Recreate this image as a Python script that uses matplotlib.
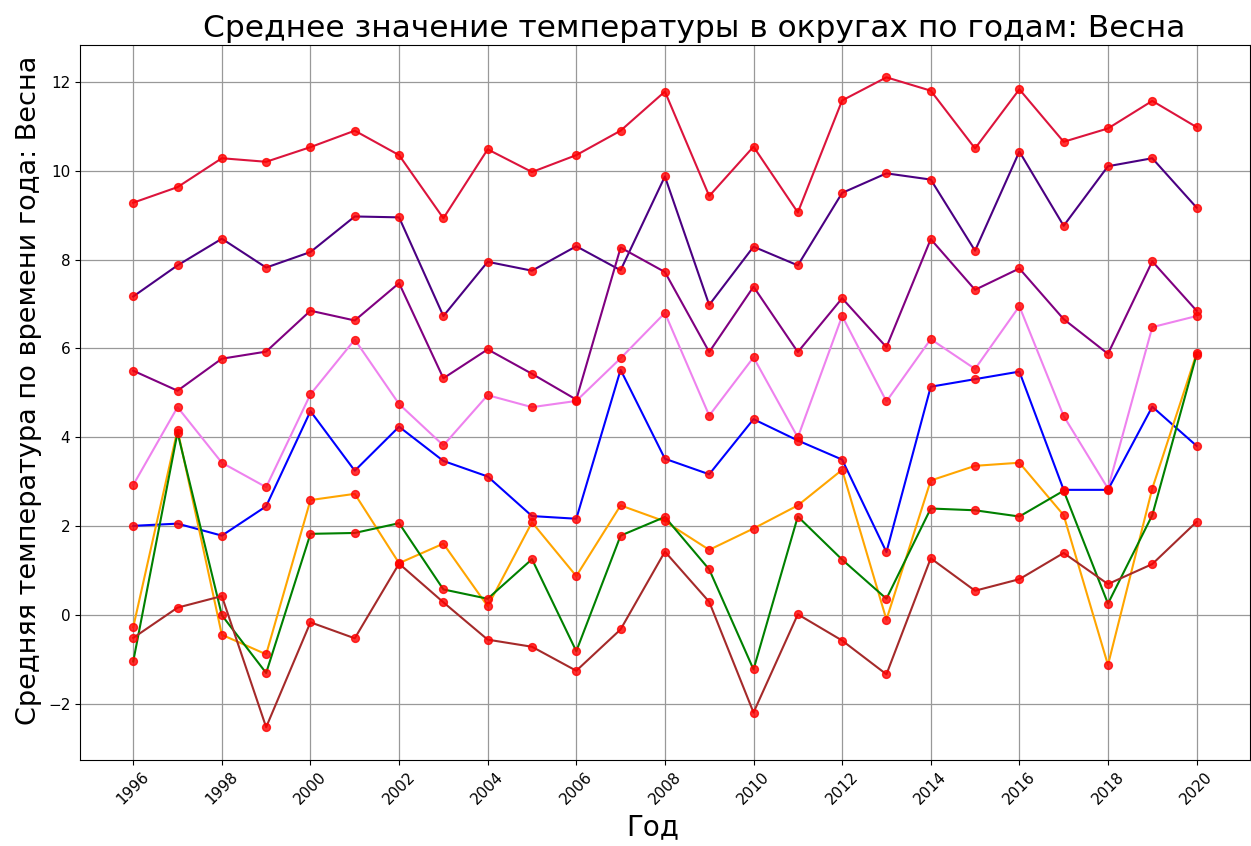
import matplotlib
matplotlib.use('Agg')
import matplotlib.pyplot as plt

years = list(range(1996, 2021))

# Средние весенние температуры по округам
okrug_1 = [9.28, 9.63, 10.28, 10.2, 10.53, 10.9, 10.35, 8.93, 10.48, 9.97, 10.35, 10.9, 11.78,
           9.43, 10.54, 9.06, 11.58, 12.1, 11.8, 10.5, 11.83, 10.65, 10.95, 11.57, 10.98]
okrug_2 = [7.17, 7.87, 8.47, 7.82, 8.17, 8.97, 8.95, 6.73, 7.95, 7.75, 8.3, 7.76, 9.87,
           6.98, 8.29, 7.87, 9.5, 9.94, 9.8, 8.2, 10.43, 8.76, 10.1, 10.28, 9.17]
okrug_3 = [5.5, 5.05, 5.77, 5.93, 6.85, 6.63, 7.47, 5.33, 5.98, 5.43, 4.85, 8.27, 7.72,
           5.92, 7.39, 5.92, 7.13, 6.03, 8.46, 7.32, 7.8, 6.66, 5.88, 7.96, 6.85]
okrug_4 = [2.93, 4.68, 3.43, 2.88, 4.97, 6.2, 4.75, 3.82, 4.95, 4.68, 4.82, 5.78, 6.8,
           4.49, 5.8, 4.0, 6.73, 4.81, 6.21, 5.54, 6.95, 4.48, 2.85, 6.48, 6.73]
okrug_5 = [2.01, 2.06, 1.79, 2.45, 4.59, 3.25, 4.24, 3.47, 3.12, 2.23, 2.17, 5.52, 3.52,
           3.17, 4.41, 3.93, 3.5, 1.42, 5.14, 5.31, 5.48, 2.82, 2.82, 4.69, 3.81]
okrug_6 = [-0.27, 4.17, -0.44, -0.88, 2.59, 2.73, 1.17, 1.61, 0.2, 2.09, 0.88, 2.47, 2.11,
           1.47, 1.95, 2.47, 3.27, -0.1, 3.03, 3.36, 3.43, 2.25, -1.12, 2.85, 5.89]
okrug_7 = [-1.04, 4.11, 0.0, -1.3, 1.83, 1.85, 2.07, 0.58, 0.37, 1.26, -0.81, 1.79, 2.21,
           1.03, -1.22, 2.22, 1.25, 0.37, 2.4, 2.36, 2.22, 2.8, 0.26, 2.25, 5.86]
okrug_8 = [-0.51, 0.17, 0.43, -2.52, -0.16, -0.52, 1.16, 0.29, -0.55, -0.71, -1.25, -0.32, 1.43,
           0.3, -2.19, 0.02, -0.57, -1.33, 1.28, 0.55, 0.81, 1.4, 0.7, 1.15, 2.1]

series = [okrug_1, okrug_2, okrug_3, okrug_4, okrug_5, okrug_6, okrug_7, okrug_8]
colors = ['crimson', 'indigo', 'purple', 'violet', 'blue', 'orange', 'green', 'brown']

fig = plt.figure(figsize=(12.51, 8.46), dpi=100)
ax = fig.subplots()
plt.subplots_adjust(left=0.064, right=0.999, top=0.947, bottom=0.102)

for vals, c in zip(series, colors):
    ax.plot(years, vals, color=c, linewidth=1.5)
    ax.scatter(years, vals, color='red', s=32, alpha=0.8, zorder=3)

ax.set_xticks(range(1996, 2021, 2))
plt.xticks(rotation=45, fontsize=11)
plt.yticks(fontsize=11)
ax.grid(True, color='#999999', linewidth=0.9)

ax.set_title('Среднее значение температуры в округах по годам: Весна', fontsize=22.5, x=0.525)
ax.set_xlabel('Год', fontsize=20, x=0.49)
ax.set_ylabel('Средняя температура по времени года: Весна', fontsize=19.5, y=0.517)

plt.savefig('out.png', dpi=100)
